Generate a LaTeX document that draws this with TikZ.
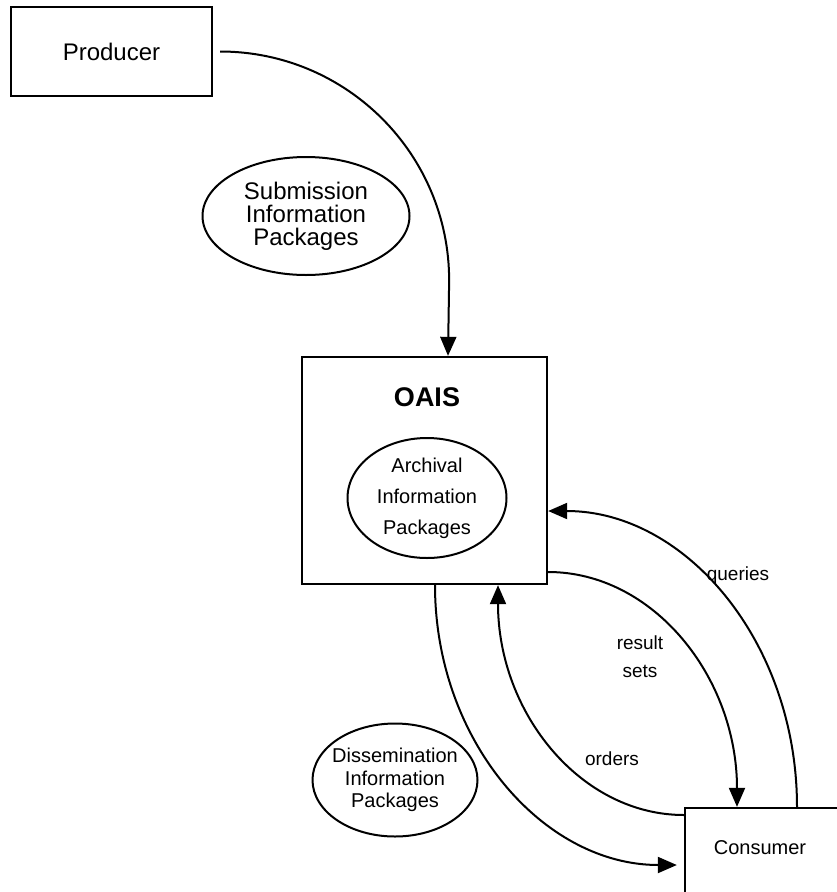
\documentclass[tikz,border=0pt]{standalone}
\usepackage{fontspec}
\setmainfont{Liberation Sans}
\usetikzlibrary{shapes.geometric,arrows.meta}

\begin{document}
\begin{tikzpicture}[x=1pt,y=1pt]
\tikzstyle{every node}+=[inner sep=0pt]
\tikzstyle{box}=[draw=black,line width=2.3pt,rectangle]
\tikzstyle{flow}=[draw=black,line width=2pt,-{Triangle[width=16pt,length=19pt]}]
\tikzstyle{lbl}=[font=\fontsize{19}{28}\selectfont,align=center]
\useasboundingbox [fill=white] (0,0) rectangle (836,-892);
\node[box,minimum width=201,minimum height=89,font=\fontsize{24}{24}\selectfont] (producer) at (111.5,-51.5) {Producer};
\draw [black,line width=2pt] (306,-216) ellipse (103.5 and 59);
\draw (306,-216) node[align=center,font=\fontsize{24}{23}\selectfont] (sip) {Submission\\Information\\Packages};
\node[box,minimum width=245,minimum height=227] (oais) at (424.5,-470.5) {};
\draw (427,-397) node[font=\fontsize{27}{27}\selectfont\bfseries] (oaistitle) {OAIS};
\draw [black,line width=2pt] (427,-498) ellipse (79.5 and 60);
\draw (427,-498) node[align=center,font=\fontsize{20}{31}\selectfont] (aip) {Archival\\Information\\Packages};
\draw [black,line width=2pt] (395,-780) ellipse (82.5 and 56.5);
\draw (395,-780) node[align=center,font=\fontsize{20}{22.5}\selectfont] (dip) {Dissemination\\Information\\Packages};
\node[box,minimum width=175,minimum height=88] (consumer) at (772.5,-852) {};
\draw (760,-848) node[font=\fontsize{20}{20}\selectfont] (consumertext) {Consumer};
\draw [flow] ([xshift=7pt]producer.east) arc (90:0:229) -- ([xshift=23.5pt]oais.north);
\draw [flow] ([xshift=24.5pt]consumer.north) .. controls +(0,164) and +(138,0) .. ([yshift=-40.5pt]oais.east);
\draw (738,-576) node[lbl] (queries) {queries};
\draw [flow] ([yshift=-101.5pt]oais.east) .. controls +(105,0) and +(0,130) .. ([xshift=-35.5pt]consumer.north);
\draw (640,-657) node[lbl] (results) {result\\sets};
\draw [flow] ([yshift=37pt]consumer.west) .. controls +(-103,0) and +(0,-128) .. ([xshift=73.5pt]oais.south);
\draw (612,-759) node[lbl] (orders) {orders};
\draw [flow] ([xshift=10.5pt]oais.south) .. controls +(0,-155) and +(-134,0) .. ([xshift=-7pt,yshift=-13pt]consumer.west);
\end{tikzpicture}
\end{document}
